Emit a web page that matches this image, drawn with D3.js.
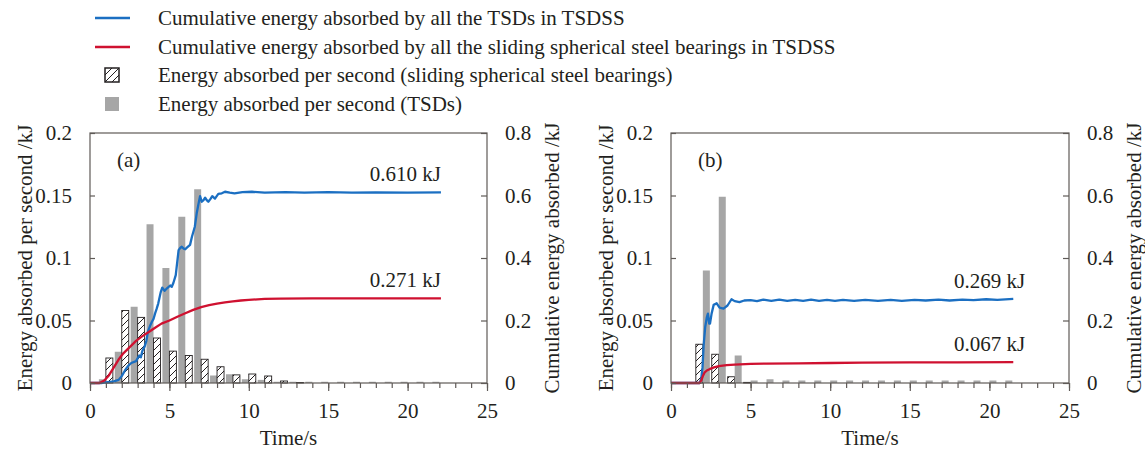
<!DOCTYPE html>
<html>
<head>
<meta charset="utf-8">
<script src="https://cdn.jsdelivr.net/npm/d3@7"></script>
<style>
  body { margin: 0; background: #fff; }
  svg text { font-family: "Liberation Serif", "Times New Roman", serif; fill: #231f20; }
</style>
</head>
<body>
<svg id="chart" width="1145" height="451" font-family="Liberation Serif, Times New Roman, serif"></svg>
<script>
// ---- data ----------------------------------------------------------------
// Per-second energy (kJ), one bar per second of excitation
const secondsA = d3.range(1, 23);
const tsdPerSecondA     = [0.003, 0.025, 0.061, 0.127, 0.092, 0.133, 0.155, 0.006, 0.007, 0.003, 0.0025, 0.001,
                           0.001, 0.001, 0.001, 0.001, 0.001, 0.001, 0.001, 0.001, 0.001, 0.001];
const bearingPerSecondA = [0.020, 0.058, 0.0525, 0.036, 0.0255, 0.022, 0.019, 0.013, 0.0065, 0.0072, 0.0056, 0.0016,
                           0.0004, 0, 0, 0, 0, 0, 0, 0, 0, 0];

const secondsB = d3.range(1, 22);
const tsdPerSecondB     = [0, 0.090, 0.149, 0.022, 0.002, 0.003, 0.002, 0.002, 0.002, 0.002, 0.002,
                           0.002, 0.002, 0.002, 0.002, 0.002, 0.002, 0.002, 0.002, 0.002, 0.002];
const bearingPerSecondB = [0, 0.031, 0.023, 0.005, 0.0005, 0, 0, 0, 0, 0, 0,
                           0, 0, 0, 0, 0, 0, 0, 0, 0, 0];

// Cumulative energy (kJ) as [time s, energy kJ]
const tsdCumulativeA = [[0,0],[0.7,0],[1.0,0.002],[1.5,0.005],[1.8,0.01],[2.0,0.022],[2.2,0.04],[2.4,0.055],
  [2.6,0.064],[2.9,0.07],[3.1,0.088],[3.2,0.082],[3.3,0.103],[3.45,0.118],[3.55,0.135],[3.65,0.165],[3.8,0.185],
  [3.9,0.196],[4.0,0.205],[4.1,0.223],[4.2,0.238],[4.3,0.255],[4.45,0.29],[4.55,0.305],[4.7,0.295],[4.85,0.303],
  [5.05,0.312],[5.15,0.308],[5.25,0.32],[5.4,0.345],[5.5,0.39],[5.58,0.425],[5.68,0.432],[5.78,0.436],[5.9,0.43],
  [6.0,0.428],[6.1,0.433],[6.3,0.442],[6.42,0.468],[6.6,0.5],[6.72,0.543],[6.82,0.57],[6.93,0.598],[7.04,0.58],
  [7.15,0.585],[7.25,0.593],[7.35,0.585],[7.45,0.58],[7.6,0.59],[7.7,0.598],[7.87,0.59],[8.08,0.605],[8.3,0.607],
  [8.5,0.612],[8.8,0.609],[9.1,0.607],[9.6,0.611],[10.2,0.612],[11,0.609],[12.3,0.611],[13.5,0.609],[15,0.611],
  [16.5,0.609],[18,0.61],[20,0.609],[22.1,0.61]];
const bearingCumulativeA = [[0,0],[0.6,0],[0.9,0.008],[1.2,0.025],[1.5,0.05],[1.8,0.075],[2.1,0.095],[2.5,0.115],
  [2.9,0.135],[3.3,0.15],[3.7,0.163],[4.1,0.177],[4.5,0.19],[5,0.2],[5.5,0.212],[6,0.223],[6.5,0.234],[7,0.243],
  [7.5,0.249],[8,0.254],[8.5,0.258],[9,0.261],[9.5,0.264],[10,0.266],[11,0.269],[12,0.27],[14,0.271],[18,0.271],
  [22.1,0.271]];

const tsdCumulativeB = [[0,0],[1.8,0],[1.9,0.015],[1.98,0.05],[2.05,0.12],[2.15,0.18],[2.25,0.21],[2.32,0.222],
  [2.4,0.19],[2.45,0.19],[2.55,0.222],[2.68,0.25],[2.87,0.255],[3.05,0.241],[3.3,0.238],[3.55,0.248],[3.8,0.268],
  [4.0,0.262],[4.3,0.259],[4.6,0.264],[5.0,0.265],[5.4,0.262],[5.8,0.267],[6.3,0.263],[6.8,0.267],[7.3,0.263],
  [7.8,0.266],[8.3,0.263],[8.8,0.267],[9.3,0.263],[9.8,0.266],[10.3,0.263],[10.8,0.266],[11.5,0.263],[12.2,0.266],
  [13,0.263],[13.8,0.266],[14.5,0.263],[15.3,0.266],[16,0.264],[16.8,0.267],[17.5,0.264],[18.3,0.267],[19,0.265],
  [19.8,0.268],[20.5,0.266],[21.5,0.269]];
const bearingCumulativeB = [[0,0],[1.8,0],[1.9,0.008],[2.0,0.022],[2.1,0.033],[2.25,0.04],[2.45,0.045],[2.7,0.05],
  [3.0,0.054],[3.5,0.057],[4,0.059],[5,0.061],[6,0.062],[8,0.063],[10,0.064],[12,0.065],[15,0.066],[18,0.066],
  [21.5,0.067]];

// Axis ticks
const timeTicks = [0, 5, 10, 15, 20, 25];
const timeMinorTicks = d3.range(0, 26);
const perSecondTicks = [0, 0.05, 0.1, 0.15, 0.2];
const cumulativeTicks = [0, 0.2, 0.4, 0.6, 0.8];

const legendLabels = [
  "Cumulative energy absorbed by all the TSDs in TSDSS",
  "Cumulative energy absorbed by all the sliding spherical steel bearings in TSDSS",
  "Energy absorbed per second (sliding spherical steel bearings)",
  "Energy absorbed per second (TSDs)"
];

// ---- styles ----------------------------------------------------------------
const BLUE = "#1b6fc2", RED = "#cf1130", GREY = "#a6a6a6", AXIS = "#5f5a57", INK = "#231f20";
const FONT = 21;
const SERIF = '"Liberation Serif", "Times New Roman", serif';

const svg = d3.select("#chart");

// diagonal hatch for the bearing bars
const defs = svg.append("defs");
const pat = defs.append("pattern").attr("id", "hatch")
  .attr("patternUnits", "userSpaceOnUse").attr("width", 7).attr("height", 7);
pat.append("rect").attr("width", 7).attr("height", 7).attr("fill", "#fff");
pat.append("path").attr("d", "M-1,1 L1,-1 M0,7 L7,0 M6,8 L8,6")
  .attr("stroke", INK).attr("stroke-width", 1);

function addText(sel) {
  return sel.append("text").attr("font-family", SERIF).attr("font-size", FONT).attr("fill", INK);
}

function drawPanel(p) {
  const x = d3.scaleLinear().domain([0, 25]).range([p.left, p.right]);
  const yL = d3.scaleLinear().domain([0, 0.2]).range([p.bottom, p.top]);
  const yR = d3.scaleLinear().domain([0, 0.8]).range([p.bottom, p.top]);
  const g = svg.append("g");

  // side-by-side bars within each second
  const sub = d3.scaleBand().domain(p.order).range([-0.44, 0.44]);
  const barW = x(sub.bandwidth()) - x(0);
  const series = { tsd: p.tsd, bearing: p.bearing };
  p.order.forEach(key => {
    g.append("g").selectAll("rect")
      .data(p.seconds.map((t, i) => ({ t, v: series[key][i] })).filter(d => d.v > 0))
      .join("rect")
      .attr("x", d => x(d.t + sub(key)))
      .attr("width", barW)
      .attr("y", d => yL(d.v))
      .attr("height", d => yL(0) - yL(d.v))
      .attr("fill", key === "tsd" ? GREY : "url(#hatch)")
      .attr("stroke", key === "tsd" ? "none" : INK)
      .attr("stroke-width", 0.9);
  });

  // cumulative curves on the secondary axis
  const line = d3.line().x(d => x(d[0])).y(d => yR(d[1]));
  [[p.tsdCum, BLUE], [p.bearingCum, RED]].forEach(([data, col]) => {
    g.append("path").datum(data).attr("d", line)
      .attr("fill", "none").attr("stroke", col).attr("stroke-width", 2.3)
      .attr("stroke-linejoin", "round");
  });

  // final-value labels
  [p.tsdCum, p.bearingCum].forEach(data => {
    const last = data[data.length - 1];
    addText(g)
      .attr("x", x(last[0]) + p.labelDx)
      .attr("y", yR(last[1]) - 11)
      .attr("text-anchor", "end")
      .text(d3.format(".3f")(last[1]) + " kJ");
  });

  // frame
  g.append("rect").attr("x", p.left).attr("y", p.top)
    .attr("width", p.right - p.left).attr("height", p.bottom - p.top)
    .attr("fill", "none").attr("stroke", AXIS).attr("stroke-width", 1.2);

  // axes
  const styleAxis = sel => {
    sel.attr("font-family", SERIF);
    sel.select(".domain").remove();
    sel.selectAll(".tick line").attr("stroke", AXIS).attr("stroke-width", 1.2);
    sel.selectAll(".tick text").attr("font-size", FONT).attr("fill", INK).attr("font-family", SERIF);
  };
  g.append("g").attr("transform", `translate(0,${p.bottom})`)
    .call(d3.axisBottom(x).tickValues(timeMinorTicks).tickSize(5).tickFormat(""))
    .call(styleAxis);
  g.append("g").attr("transform", `translate(0,${p.bottom})`)
    .call(d3.axisBottom(x).tickValues(timeTicks).tickSize(8).tickPadding(12).tickFormat(d3.format("d")))
    .call(styleAxis);
  g.append("g").attr("transform", `translate(${p.left},0)`)
    .call(d3.axisLeft(yL).tickValues(perSecondTicks).tickSize(-5).tickPadding(18).tickFormat(d => String(d)))
    .call(styleAxis);
  g.append("g").attr("transform", `translate(${p.right},0)`)
    .call(d3.axisRight(yR).tickValues(cumulativeTicks).tickSize(-6).tickPadding(18).tickFormat(d => String(d)))
    .call(styleAxis);

  // titles
  const midY = (p.top + p.bottom) / 2;
  addText(g).attr("transform", `translate(${p.left - 65},${midY}) rotate(-90)`)
    .attr("text-anchor", "middle").attr("dy", "0.35em")
    .text("Energy absorbed per second /kJ");
  addText(g).attr("transform", `translate(${p.right + 65},${midY}) rotate(-90)`)
    .attr("text-anchor", "middle").attr("dy", "0.35em")
    .text("Cumulative energy absorbed /kJ");
  addText(g).attr("x", (p.left + p.right) / 2).attr("y", 445)
    .attr("text-anchor", "middle").text("Time/s");
  addText(g).attr("x", p.left + 27).attr("y", 167).text(p.tag);
}

drawPanel({
  left: 90, right: 487, top: 133, bottom: 383, tag: "(a)", order: ["tsd", "bearing"],
  seconds: secondsA, tsd: tsdPerSecondA, bearing: bearingPerSecondA,
  tsdCum: tsdCumulativeA, bearingCum: bearingCumulativeA, labelDx: 0
});
drawPanel({
  left: 671, right: 1069, top: 133, bottom: 383, tag: "(b)", order: ["bearing", "tsd"],
  seconds: secondsB, tsd: tsdPerSecondB, bearing: bearingPerSecondB,
  tsdCum: tsdCumulativeB, bearingCum: bearingCumulativeB, labelDx: 12
});

// legend
const legend = svg.append("g");
const rowY = [18, 47, 75, 104];
legendLabels.forEach((label, i) => {
  const row = legend.append("g").attr("transform", `translate(0,${rowY[i]})`);
  if (i < 2) {
    row.append("line").attr("x1", 95).attr("x2", 130).attr("y1", 0).attr("y2", 0)
      .attr("stroke", i === 0 ? BLUE : RED).attr("stroke-width", 2.3);
  } else {
    row.append("rect").attr("x", 105).attr("y", -7).attr("width", 14).attr("height", 14)
      .attr("fill", i === 2 ? "url(#hatch)" : GREY)
      .attr("stroke", i === 2 ? INK : "none").attr("stroke-width", 1.5);
  }
  addText(row).attr("x", 158).attr("dy", "0.35em").text(label);
});
</script>
</body>
</html>
